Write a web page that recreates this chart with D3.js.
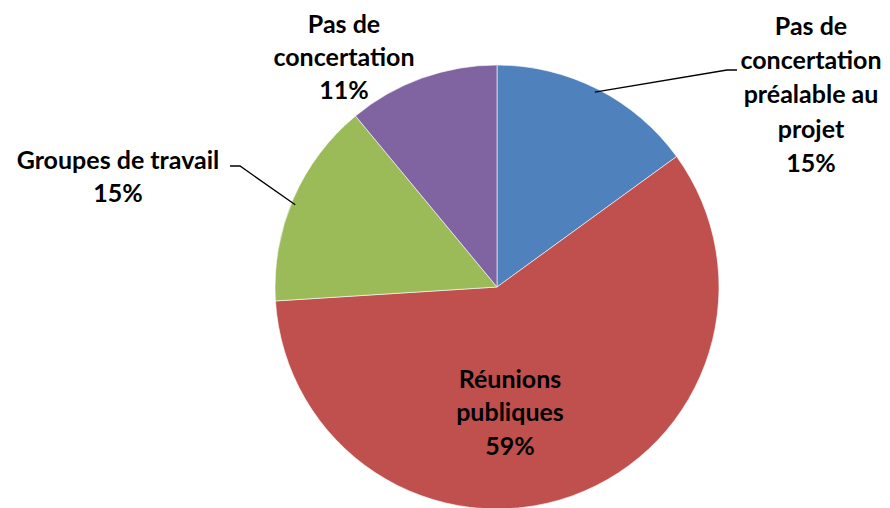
<!DOCTYPE html>
<html>
<head>
<meta charset="utf-8">
<script src="https://cdn.jsdelivr.net/npm/d3@7"></script>
<style>
  html, body { margin: 0; padding: 0; background: #fff; }
  svg text { font-family: Lato, "Open Sans", sans-serif; font-weight: bold; fill: #000; }
</style>
</head>
<body>
<svg id="chart" width="890" height="508"></svg>
<script>
// Modes de concertation
const categories = ["Pas de concertation préalable au projet", "Réunions publiques", "Groupes de travail", "Pas de concertation"];
const values = [15, 59, 15, 11];
const colors = ["#4F81BD", "#C0504D", "#9BBB59", "#8064A2"];
// label lines per slice
const labelLines = [
  ["Pas de", "concertation", "préalable au", "projet", "15%"],
  ["Réunions", "publiques", "59%"],
  ["Groupes de travail", "15%"],
  ["Pas de", "concertation", "11%"]
];

const svg = d3.select("#chart");
const cx = 497, cy = 287, r = 222;

const pie = d3.pie().sort(null).value(d => d)(values);
const arc = d3.arc().innerRadius(0).outerRadius(r);

const g = svg.append("g").attr("transform", `translate(${cx},${cy})`);
g.selectAll("path").data(pie).join("path")
  .attr("d", arc)
  .attr("fill", (d, i) => colors[i])
  .attr("stroke", "#fff")
  .attr("stroke-width", 0.6);

// point on the rim at the middle of a slice
const rim = (d, k) => {
  const a = (d.startAngle + d.endAngle) / 2;
  return [cx + Math.sin(a) * r * k, cy - Math.cos(a) * r * k];
};

// leader lines for the outside labels
const blueRim = rim(pie[0], 1.0);
const greenRim = rim(pie[2], 1.0);
svg.append("polyline")
  .attr("points", [[blueRim[0] - 3, blueRim[1] + 3], [727, 70], [737, 70]].map(p => p.join(",")).join(" "))
  .attr("fill", "none").attr("stroke", "#000").attr("stroke-width", 1.3);
svg.append("polyline")
  .attr("points", [[230, 166], [240, 166], [greenRim[0] + 2, greenRim[1] + 6]].map(p => p.join(",")).join(" "))
  .attr("fill", "none").attr("stroke", "#000").attr("stroke-width", 1.3);

// label anchor (center x, first-line center y)
const labelPos = [[811, 26], [510, 379], [118, 160], [344, 24]];
const lineH = [34.3, 33.5, 33, 33];
labelLines.forEach((lines, i) => {
  const t = svg.append("text")
    .attr("text-anchor", "middle")
    .attr("font-size", 25);
  lines.forEach((s, j) => {
    t.append("tspan")
      .attr("x", labelPos[i][0])
      .attr("y", labelPos[i][1] + j * lineH[i])
      .attr("dy", "0.35em")
      .text(s);
  });
});
</script>
</body>
</html>
